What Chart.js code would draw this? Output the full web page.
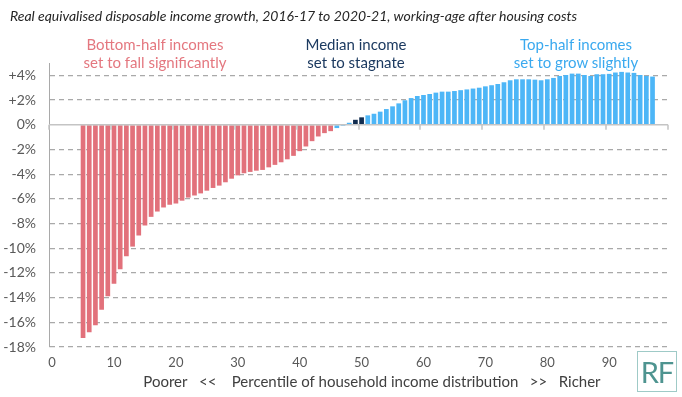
<!DOCTYPE html>
<html>
<head>
<meta charset="utf-8">
<script src="https://cdn.jsdelivr.net/npm/chart.js@4/dist/chart.umd.min.js"></script>
<style>
  body { margin: 0; background: #fff; font-family: Lato, "Open Sans", sans-serif; }
  #wrap { position: relative; width: 682px; height: 397px; }
  #title { position: absolute; left: 10px; top: 7px; font-style: italic; font-size: 14px; color: #262626; white-space: nowrap; letter-spacing: 0px; }
  .note { position: absolute; width: 220px; text-align: center; font-size: 15px; line-height: 18px; white-space: nowrap; }
  #rf { position: absolute; left: 637px; top: 351px; width: 38px; height: 39px; border: 1.5px solid #9fcac7; color: #4e9490; font-size: 29px; line-height: 39px; text-align: center; letter-spacing: -1px; }
</style>
</head>
<body>
<div id="wrap">
  <canvas id="myChart"></canvas>
  <div id="title">Real equivalised disposable income growth, 2016-17 to 2020-21, working-age after housing costs</div>
  <div class="note" style="left:45px; top:35px; color:#e4777f;">Bottom-half incomes<br>set to fall significantly</div>
  <div class="note" style="left:246px; top:35px; color:#1c3a60;">Median income<br>set to stagnate</div>
  <div class="note" style="left:466px; top:35px; color:#3aa9ef;">Top-half incomes<br>set to grow slightly</div>
  <div id="rf">RF</div>
</div>
<script>
"use strict";

// percentiles 0..99 on the axis, bars only from 5 to 97
const percentiles = Array.from({ length: 100 }, (_, i) => i);
const firstPercentile = 5;
const growth = [
    -17.27, -16.8, -16.24, -14.99, -13.88, -12.88, -11.71, -10.65, -9.87, -8.97,
    -8.16, -7.46, -7.03, -6.7, -6.48, -6.38, -6.15, -5.9, -5.73, -5.56,
    -5.34, -5.12, -4.93, -4.66, -4.37, -4.1, -3.93, -3.82, -3.72, -3.66,
    -3.45, -3.25, -3.04, -2.8, -2.52, -2.14, -1.76, -1.33, -0.95, -0.68,
    -0.52, -0.27, -0.1, 0.16, 0.4, 0.6, 0.76, 0.89, 1.06, 1.27,
    1.49, 1.73, 1.98, 2.16, 2.33, 2.41, 2.49, 2.6, 2.68, 2.68,
    2.73, 2.8, 2.86, 2.93, 3.0, 3.11, 3.2, 3.3, 3.44, 3.6,
    3.68, 3.68, 3.68, 3.65, 3.6, 3.68, 3.79, 3.95, 4.03, 4.14,
    4.14, 4.03, 3.95, 4.09, 4.09, 4.12, 4.23, 4.28, 4.23, 4.2,
    4.03, 3.95, 3.9
];
const bottomHalfLast = 45;
const medianPercentiles = [49, 50];
const xTickLabels = ['0', '10', '20', '30', '40', '50', '60', '70', '80', '90'];
const yTicks = [-18, -16, -14, -12, -10, -8, -6, -4, -2, 0, 2, 4];

const values = percentiles.map(p => {
    const v = growth[p - firstPercentile];
    return v === undefined ? null : v;
});
const colours = percentiles.map(p => {
    if (medianPercentiles.includes(p)) return '#112d50';
    if (p <= bottomHalfLast) return '#e2717b';
    return '#4db6f7';
});

// solid zero line with small ticks every 10 percentiles
const zeroLine = {
    id: 'zeroLine',
    afterDatasetsDraw(chart) {
        const { ctx, chartArea, scales: { x, y } } = chart;
        const y0 = y.getPixelForValue(0);
        const half = (x.getPixelForValue(1) - x.getPixelForValue(0)) / 2;
        ctx.save();
        ctx.strokeStyle = '#c4c4c4';
        ctx.lineWidth = 1.5;
        ctx.beginPath();
        ctx.moveTo(chartArea.left, y0);
        ctx.lineTo(chartArea.right, y0);
        for (let i = 0; i <= 100; i += 10) {
            const px = Math.round(x.getPixelForValue(Math.min(i, 99)) + (i === 100 ? half : -half));
            ctx.moveTo(px, y0);
            ctx.lineTo(px, y0 + 5);
        }
        ctx.stroke();
        ctx.restore();
    }
};

const ctx = document.getElementById('myChart');
new Chart(ctx, {
    type: 'bar',
    data: {
        labels: percentiles,
        datasets: [{
            data: values,
            backgroundColor: colours,
            categoryPercentage: 1,
            barPercentage: 0.76
        }]
    },
    options: {
        responsive: true,
        maintainAspectRatio: false,
        animation: false,
        layout: { padding: { top: 63, right: 14, bottom: 0, left: 0 } },
        plugins: { legend: { display: false }, tooltip: { enabled: false } },
        scales: {
            x: {
                grid: { display: false, drawTicks: false },
                border: { display: false },
                afterFit: (scale) => { scale.height = 50; },
                ticks: {
                    autoSkip: false,
                    maxRotation: 0,
                    padding: 8,
                    color: '#595959',
                    font: { family: 'Lato', size: 13 },
                    callback: (val, i) => (i % 10 === 0 ? xTickLabels[i / 10] : '')
                },
                title: {
                    display: true,
                    text: '       Poorer   <<    Percentile of household income distribution   >>   Richer',
                    color: '#404040',
                    font: { family: 'Lato', size: 15 },
                    padding: { top: 0, bottom: 6 }
                }
            },
            y: {
                min: -18,
                max: 5,
                afterFit: (scale) => { scale.width = 49; },
                afterBuildTicks: (scale) => { scale.ticks = yTicks.map(v => ({ value: v })); },
                grid: {
                    drawTicks: false,
                    color: (c) => (c.tick && c.tick.value === 0 ? 'rgba(0,0,0,0)' : '#a9a9a9'),
                    lineWidth: 1.2
                },
                border: { display: true, color: '#a9a9a9', width: 1, dash: [5, 4] },
                ticks: {
                    padding: 13,
                    color: '#595959',
                    font: { family: 'Lato', size: 14 },
                    callback: (v) => (v > 0 ? '+' + v + '%' : v + '%')
                }
            }
        }
    },
    plugins: [zeroLine]
});
</script>
</body>
</html>
